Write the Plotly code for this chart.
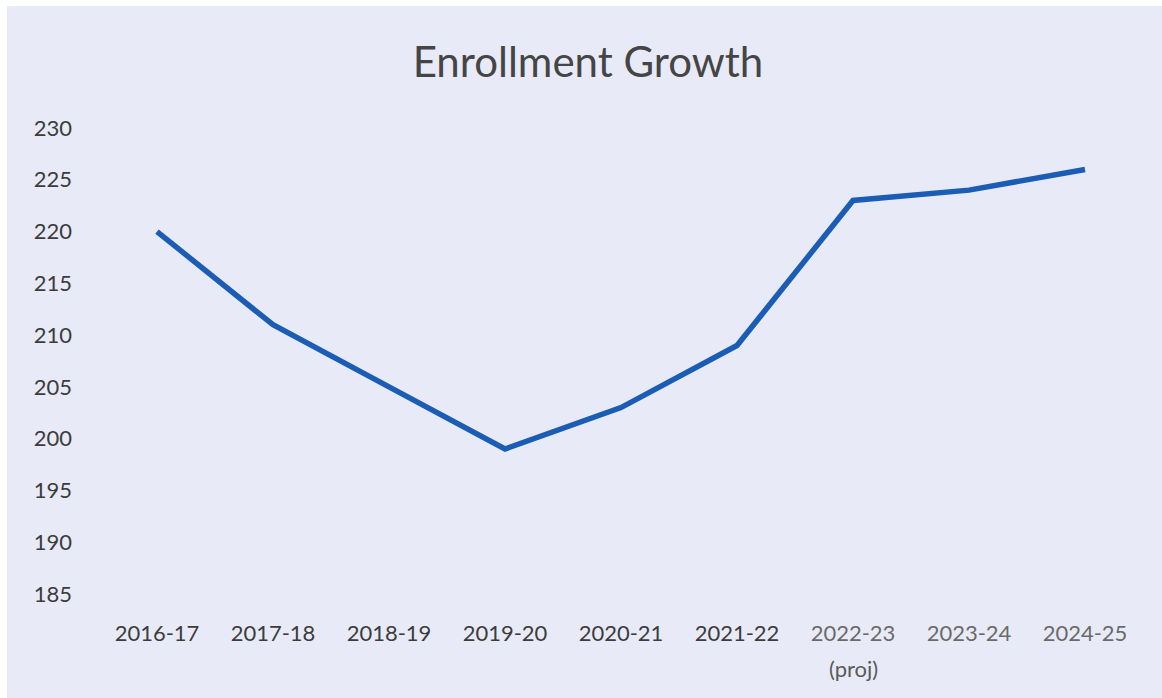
import plotly.graph_objects as go

categories = ["2016-17", "2017-18", "2018-19", "2019-20", "2020-21", "2021-22", "2022-23", "2023-24", "2024-25"]
enrollment = [220, 211, 205, 199, 203, 209, 223, 224, 226]
tick_labels = ["2016-17", "2017-18", "2018-19", "2019-20", "2020-21", "2021-22",
               "<span style='color:#6a6a6a'>2022-23</span>",
               "<span style='color:#6a6a6a'>2023-24</span>",
               "<span style='color:#6a6a6a'>2024-25</span>"]
proj_label = "(proj)"
proj_category = "2022-23"
y_ticks = [185, 190, 195, 200, 205, 210, 215, 220, 225, 230]

W, H = 1162, 698
L, R, T, B = 99, 19, 128, 104
PW, PH = W - L - R, H - T - B
BG = "#e8ebf7"

fig = go.Figure()
fig.add_trace(go.Scatter(
    x=categories, y=enrollment, mode="lines",
    line=dict(color="#1b5db4", width=5.5),
    hoverinfo="x+y",
))

fig.update_layout(
    width=W, height=H,
    paper_bgcolor=BG, plot_bgcolor=BG,
    margin=dict(l=L, r=R, t=T, b=B),
    showlegend=False,
    font=dict(family="Lato, 'Open Sans', sans-serif", color="#404040", size=22),
    title=dict(text="Enrollment Growth", x=0.506, xanchor="center", y=1 - 62 / H, yanchor="middle",
               font=dict(size=42, color="#454545")),
    xaxis=dict(type="category", tickmode="array", tickvals=categories, ticktext=tick_labels,
               showgrid=False, zeroline=False, showline=False, ticks="",
               ticklabelstandoff=24, range=[-0.5, 8.5],
               tickfont=dict(size=22, color="#3c3c3c")),
    yaxis=dict(range=[185, 230], tickvals=y_ticks, showgrid=False, zeroline=False,
               showline=False, ticks="", ticklabelstandoff=26,
               tickfont=dict(size=22, color="#3c3c3c")),
)

fig.add_annotation(x=proj_category, xref="x", yref="paper", y=-(668 - (T + PH)) / PH,
                   text=proj_label, showarrow=False, yanchor="middle",
                   font=dict(size=22, color="#5a5a5a"))

# white scan border on top and left
fig.add_shape(type="rect", xref="paper", yref="paper",
              x0=-L / PW, x1=(W - L) / PW,
              y0=1 + (T - 6) / PH, y1=1 + T / PH,
              fillcolor="white", line_width=0, layer="below")
fig.add_shape(type="rect", xref="paper", yref="paper",
              x0=-L / PW, x1=(-L + 7) / PW,
              y0=-B / PH, y1=1 + T / PH,
              fillcolor="white", line_width=0, layer="below")

fig.write_html("out.html")
